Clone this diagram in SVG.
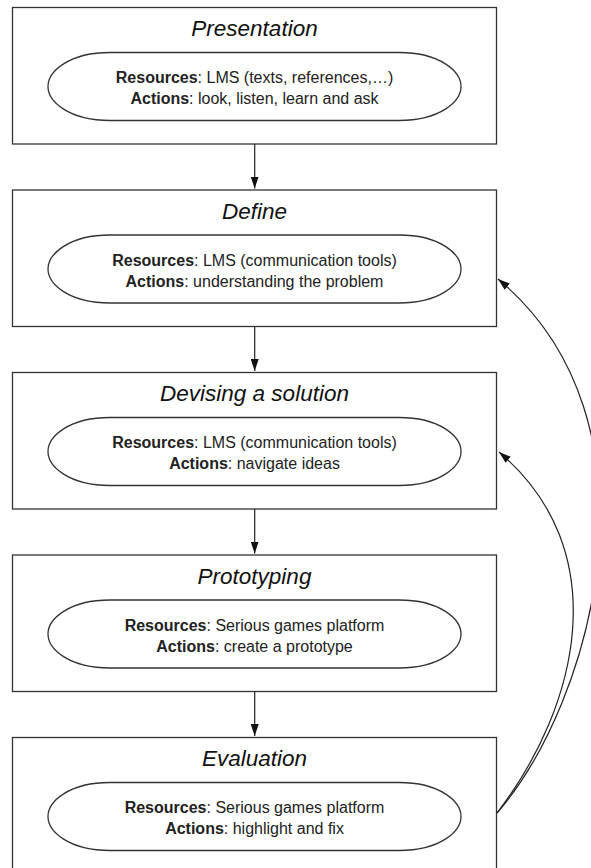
<svg xmlns="http://www.w3.org/2000/svg" width="591" height="868" viewBox="0 0 591 868">
<style>
.box{fill:#fff;stroke:#333;stroke-width:1.3}
.ell{fill:#fff;stroke:#333;stroke-width:1.3}
.title{font-family:"Liberation Sans",Arial,sans-serif;font-size:22.5px;font-style:italic;fill:#111;text-anchor:middle}
.body{font-family:"Liberation Sans",Arial,sans-serif;font-size:16px;fill:#222;text-anchor:middle}
.body tspan.b{font-weight:bold}
.edge{fill:none;stroke:#222;stroke-width:1.2}
</style>
<defs>
<marker id="ah" viewBox="0 0 12 8" refX="12" refY="4" markerWidth="12" markerHeight="8" markerUnits="userSpaceOnUse" orient="auto">
<path d="M0,0 L12,4 L0,8 Z" fill="#111"/>
</marker>
</defs>
<rect width="591" height="868" fill="#fff"/>
<g id="presentation">
<rect class="box" x="12.5" y="7.5" width="484" height="136.5"/>
<path class="ell" transform="translate(0,7.5)" d="M110,45 H399 C440,45 461,64 461,79 C461,94 440,113 399,113 H110 C69,113 48,94 48,79 C48,64 69,45 110,45 Z"/>
<text class="title" x="254.5" y="36">Presentation</text>
<text class="body" x="254.5" y="83.3"><tspan class="b">Resources</tspan>: LMS (texts, references,…)</text>
<text class="body" x="254.5" y="104"><tspan class="b">Actions</tspan>: look, listen, learn and ask</text>
</g>
<g id="define">
<rect class="box" x="12.5" y="190" width="484" height="136.5"/>
<path class="ell" transform="translate(0,190)" d="M110,45 H399 C440,45 461,64 461,79 C461,94 440,113 399,113 H110 C69,113 48,94 48,79 C48,64 69,45 110,45 Z"/>
<text class="title" x="254.5" y="218.5">Define</text>
<text class="body" x="254.5" y="265.8"><tspan class="b">Resources</tspan>: LMS (communication tools)</text>
<text class="body" x="254.5" y="286.5"><tspan class="b">Actions</tspan>: understanding the problem</text>
</g>
<g id="devising">
<rect class="box" x="12.5" y="372.5" width="484" height="136.5"/>
<path class="ell" transform="translate(0,372.5)" d="M110,45 H399 C440,45 461,64 461,79 C461,94 440,113 399,113 H110 C69,113 48,94 48,79 C48,64 69,45 110,45 Z"/>
<text class="title" x="254.5" y="401">Devising a solution</text>
<text class="body" x="254.5" y="448.3"><tspan class="b">Resources</tspan>: LMS (communication tools)</text>
<text class="body" x="254.5" y="469"><tspan class="b">Actions</tspan>: navigate ideas</text>
</g>
<g id="prototyping">
<rect class="box" x="12.5" y="555" width="484" height="136.5"/>
<path class="ell" transform="translate(0,555)" d="M110,45 H399 C440,45 461,64 461,79 C461,94 440,113 399,113 H110 C69,113 48,94 48,79 C48,64 69,45 110,45 Z"/>
<text class="title" x="254.5" y="583.5">Prototyping</text>
<text class="body" x="254.5" y="630.8"><tspan class="b">Resources</tspan>: Serious games platform</text>
<text class="body" x="254.5" y="651.5"><tspan class="b">Actions</tspan>: create a prototype</text>
</g>
<g id="evaluation">
<rect class="box" x="12.5" y="737.5" width="484" height="136.5"/>
<path class="ell" transform="translate(0,737.5)" d="M110,45 H399 C440,45 461,64 461,79 C461,94 440,113 399,113 H110 C69,113 48,94 48,79 C48,64 69,45 110,45 Z"/>
<text class="title" x="254.5" y="766">Evaluation</text>
<text class="body" x="254.5" y="813.3"><tspan class="b">Resources</tspan>: Serious games platform</text>
<text class="body" x="254.5" y="834"><tspan class="b">Actions</tspan>: highlight and fix</text>
</g>
<g id="connectors">
<path class="edge" d="M254.7,144 V188.5" marker-end="url(#ah)"/>
<path class="edge" d="M254.7,326.5 V371" marker-end="url(#ah)"/>
<path class="edge" d="M254.7,509 V553.5" marker-end="url(#ah)"/>
<path class="edge" d="M254.7,691.5 V736" marker-end="url(#ah)"/>
<path class="edge" d="M497,813 C595,700 668,420 498,279" marker-end="url(#ah)"/>
<path class="edge" d="M497,813 C580,705 615,550 499,452" marker-end="url(#ah)"/>
</g>
</svg>
